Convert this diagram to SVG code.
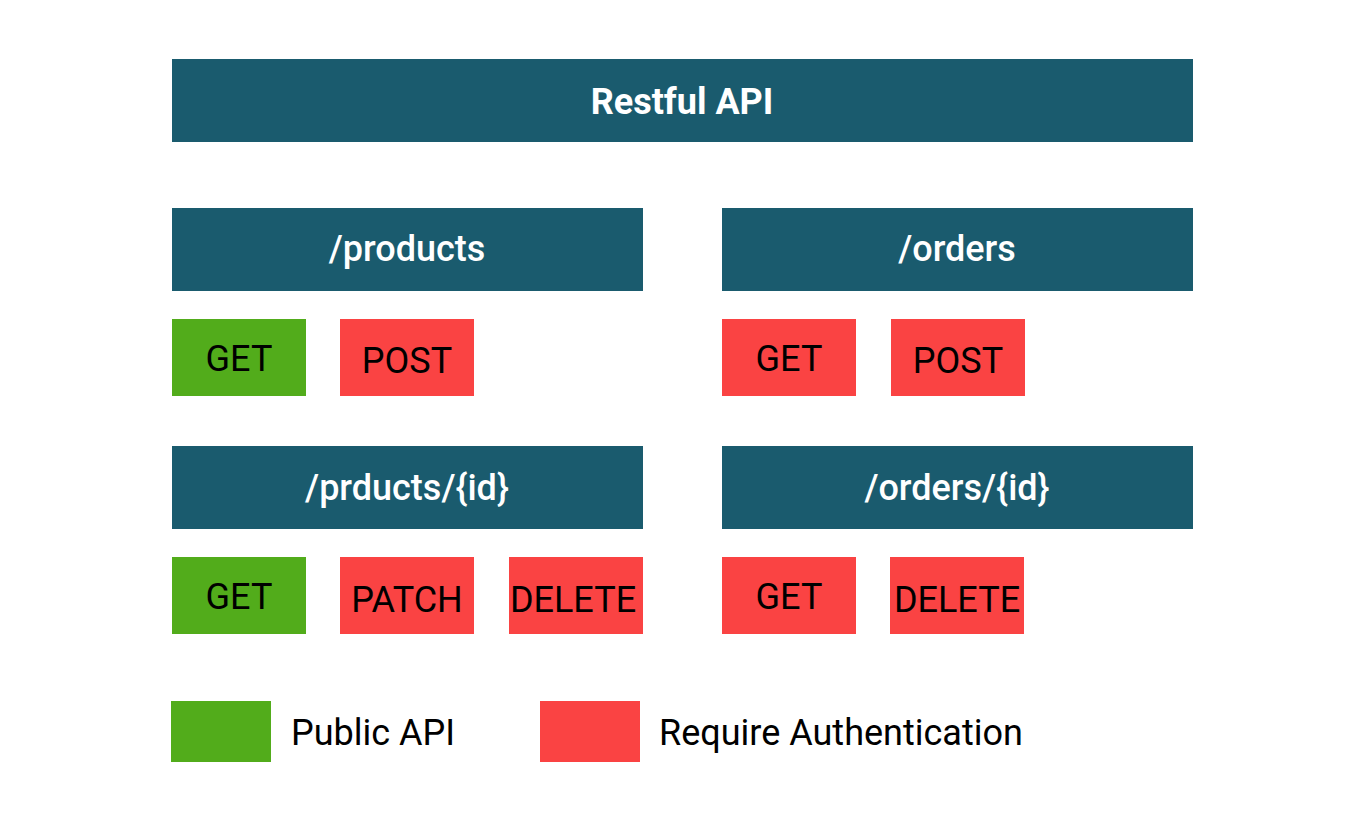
<svg xmlns="http://www.w3.org/2000/svg" width="1366" height="814" viewBox="0 0 1366 814">
<style>
.hdr{fill:#1a5b6e}
.pub{fill:#52ac1b}
.auth{fill:#fa4343}
.ht{font-family:Roboto,"Liberation Sans",sans-serif;font-size:36px;font-weight:500;fill:#ffffff;text-anchor:middle}
.tt{font-family:Roboto,"Liberation Sans",sans-serif;font-size:36px;font-weight:700;fill:#ffffff;text-anchor:middle}
.mt{font-family:Roboto,"Liberation Sans",sans-serif;font-size:36px;fill:#000000;text-anchor:middle}
.lt{font-family:Roboto,"Liberation Sans",sans-serif;font-size:36px;fill:#000000}
</style>
<rect width="1366" height="814" fill="#ffffff"/>
<g id="title"><rect class="hdr" x="172" y="59" width="1021" height="83"/><text class="tt" x="682" y="114">Restful API</text></g>
<g id="products"><rect class="hdr" x="172" y="208" width="471" height="83"/><text class="ht" x="407" y="261">/products</text></g>
<g id="orders"><rect class="hdr" x="722" y="208" width="471" height="83"/><text class="ht" x="957" y="261">/orders</text></g>
<g id="products-get"><rect class="pub" x="172" y="319" width="134" height="77"/><text class="mt" x="239" y="371">GET</text></g>
<g id="products-post"><rect class="auth" x="340" y="319" width="134" height="77"/><text class="mt" x="407" y="373">POST</text></g>
<g id="orders-get"><rect class="auth" x="722" y="319" width="134" height="77"/><text class="mt" x="789" y="371">GET</text></g>
<g id="orders-post"><rect class="auth" x="891" y="319" width="134" height="77"/><text class="mt" x="958" y="373">POST</text></g>
<g id="product-id"><rect class="hdr" x="172" y="446" width="471" height="83"/><text class="ht" x="407" y="500">/prducts/{id}</text></g>
<g id="order-id"><rect class="hdr" x="722" y="446" width="471" height="83"/><text class="ht" x="957" y="500">/orders/{id}</text></g>
<g id="product-id-get"><rect class="pub" x="172" y="557" width="134" height="77"/><text class="mt" x="239" y="609">GET</text></g>
<g id="product-id-patch"><rect class="auth" x="340" y="557" width="134" height="77"/><text class="mt" x="407" y="612">PATCH</text></g>
<g id="product-id-delete"><rect class="auth" x="509" y="557" width="134" height="77"/><text class="mt" x="573" y="612">DELETE</text></g>
<g id="order-id-get"><rect class="auth" x="722" y="557" width="134" height="77"/><text class="mt" x="789" y="609">GET</text></g>
<g id="order-id-delete"><rect class="auth" x="890" y="557" width="134" height="77"/><text class="mt" x="957" y="612">DELETE</text></g>
<g id="legend-public"><rect class="pub" x="171" y="701" width="100" height="61"/><text class="lt" x="291" y="745">Public API</text></g>
<g id="legend-auth"><rect class="auth" x="540" y="701" width="100" height="61"/><text class="lt" x="659" y="745">Require Authentication</text></g>
<g id="connectors"></g>
</svg>
